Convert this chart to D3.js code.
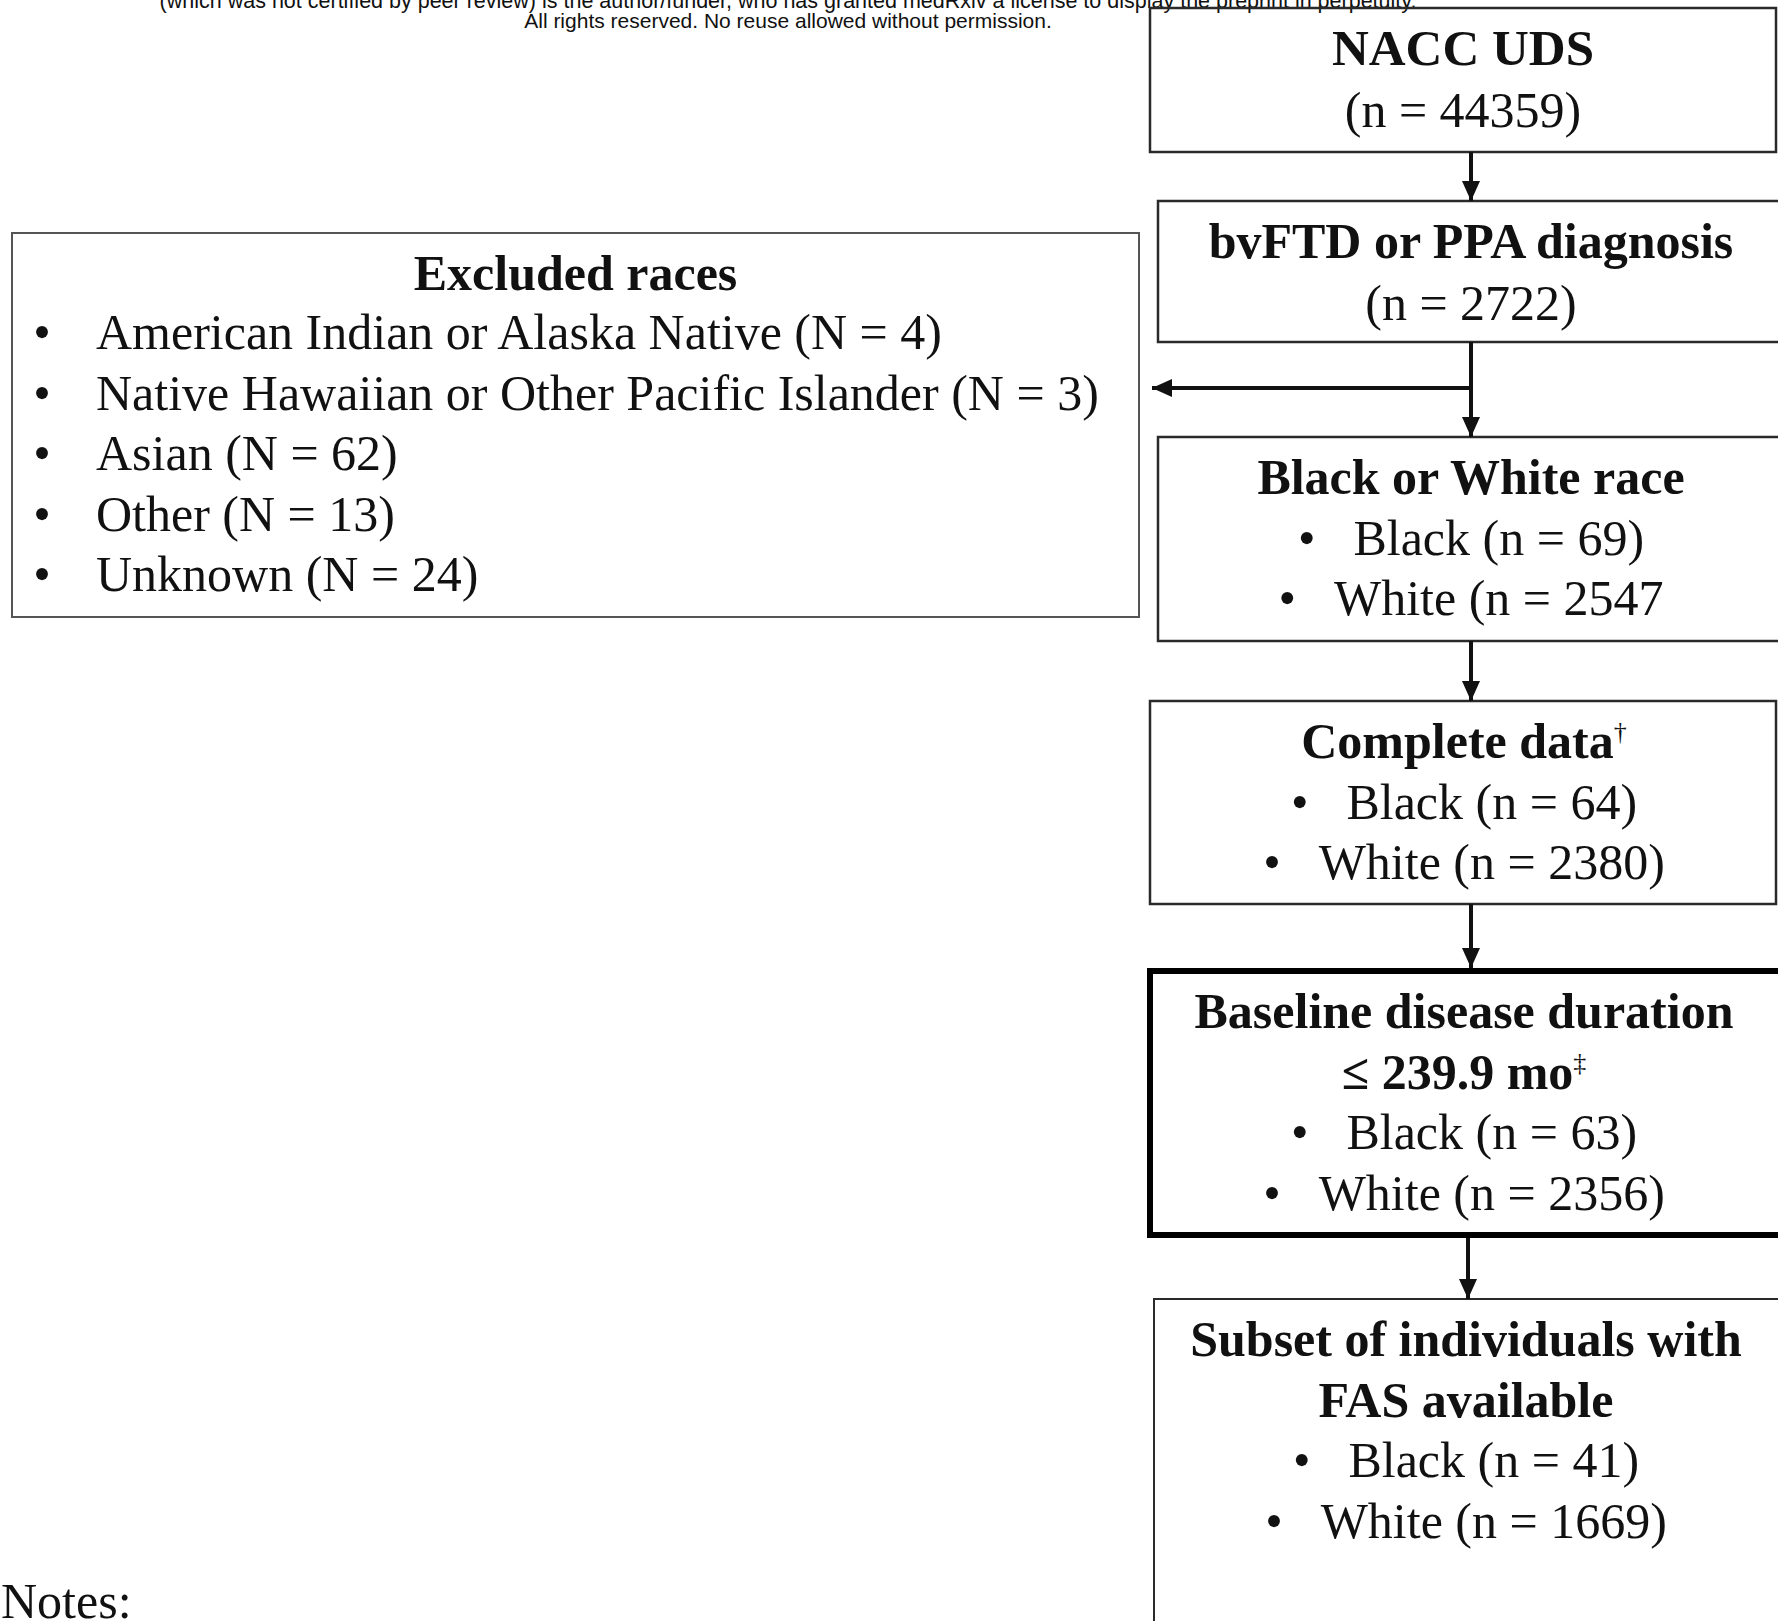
<!DOCTYPE html>
<html>
<head>
<meta charset="utf-8">
<script src="https://cdn.jsdelivr.net/npm/d3@7"></script>
<style>
  body { margin: 0; background: #fff; }
  svg { display: block; }
  .serif { font-family: "Liberation Serif", "Times New Roman", serif; fill: #111; }
  .sans { font-family: "Liberation Sans", Arial, sans-serif; fill: #111; }
</style>
</head>
<body>
<div id="chart"></div>
<script>
// ---- data ----
var headerLines = [
  "(which was not certified by peer review) is the author/funder, who has granted medRxiv a license to display the preprint in perpetuity.",
  "All rights reserved. No reuse allowed without permission."
];

var stageTitles = [
  ["NACC UDS"],
  ["bvFTD or PPA diagnosis"],
  ["Black or White race"],
  ["Complete data"],
  ["Baseline disease duration", "\u2264 239.9 mo"],
  ["Subset of individuals with", "FAS available"]
];
var stageMarks = ["", "", "", "\u2020", "\u2021", ""];   // footnote marks on last title line
var stageTotal = [44359, 2722, null, null, null, null];
var blackN = [null, null, 69, 64, 63, 41];
var whiteN = [null, null, 2547, 2380, 2356, 1669];
var missingParen = [2];  // "White (n = 2547" has no closing paren in the source

var excludedTitle = "Excluded races";
var excludedRaces = ["American Indian or Alaska Native", "Native Hawaiian or Other Pacific Islander", "Asian", "Other", "Unknown"];
var excludedN = [4, 3, 62, 13, 24];

var notesLabel = "Notes:";

// ---- layout ----
var width = 1778, height = 1621;

var boxes = [
  {x: 1150, y: 8,    w: 626, h: 144, cx: 1463, sw: 2.5, titleSize: 51},
  {x: 1158, y: 201,  w: 640, h: 141, cx: 1471, sw: 2.5},
  {x: 1158, y: 437,  w: 640, h: 204, cx: 1471, sw: 2.5},
  {x: 1150, y: 701,  w: 626, h: 203, cx: 1464, sw: 2.5},
  {x: 1150, y: 971,  w: 640, h: 264, cx: 1464, sw: 6},
  {x: 1154, y: 1299, w: 640, h: 420, cx: 1466, sw: 2}
];
var excludedBox = {x: 12, y: 233, w: 1127, h: 384};

var lineStep = 60.5, firstLine = 57, fontSize = 50;

var svg = d3.select("#chart").append("svg")
    .attr("width", width)
    .attr("height", height);

svg.append("defs").append("marker")
    .attr("id", "head")
    .attr("markerUnits", "userSpaceOnUse")
    .attr("viewBox", "0 -9 20 18")
    .attr("refX", 20).attr("refY", 0)
    .attr("markerWidth", 20).attr("markerHeight", 18)
    .attr("orient", "auto")
  .append("path")
    .attr("d", "M0,-9L20,0L0,9Z")
    .attr("fill", "#111");

// header (preprint notice)
svg.selectAll(".header")
    .data(headerLines)
  .enter().append("text")
    .attr("class", "header sans")
    .attr("x", 788)
    .attr("y", function(d, i) { return 8 + i * 20; })
    .attr("text-anchor", "middle")
    .style("font-size", function(d, i) { return i == 0 ? "21.5px" : "21px"; })
    .text(function(d) { return d; });

// stage boxes
var stage = svg.selectAll(".stage")
    .data(boxes)
  .enter().append("g")
    .attr("class", "stage");

stage.append("rect")
    .attr("x", function(d) { return d.x; })
    .attr("y", function(d) { return d.y; })
    .attr("width", function(d) { return d.w; })
    .attr("height", function(d) { return d.h; })
    .attr("fill", "none")
    .attr("stroke", function(d, i) { return i == 4 ? "#000" : "#2a2a2a"; })
    .attr("stroke-width", function(d) { return d.sw; });

stage.each(function(b, i) {
  var g = d3.select(this);
  var row = 0;
  stageTitles[i].forEach(function(t, k) {
    var txt = g.append("text")
        .attr("class", "serif")
        .attr("x", b.cx)
        .attr("y", b.y + firstLine + row * lineStep)
        .attr("text-anchor", "middle")
        .style("font-size", (b.titleSize || fontSize) + "px")
        .style("font-weight", "bold")
        .text(t);
    if (k == stageTitles[i].length - 1 && stageMarks[i]) {
      txt.append("tspan")
          .attr("dy", -18)
          .style("font-size", "26px")
          .style("font-weight", "normal")
          .text(stageMarks[i]);
    }
    row++;
  });
  if (stageTotal[i] != null) {
    g.append("text")
        .attr("class", "serif")
        .attr("x", b.cx)
        .attr("y", b.y + firstLine + row * lineStep + 1)
        .attr("text-anchor", "middle")
        .style("font-size", fontSize + "px")
        .text("(n = " + stageTotal[i] + ")");
    row++;
  }
  var bullets = [];
  if (blackN[i] != null) bullets.push("Black (n = " + blackN[i] + ")");
  if (whiteN[i] != null) bullets.push("White (n = " + whiteN[i] + (missingParen.indexOf(i) >= 0 ? "" : ")"));
  bullets.forEach(function(label) {
    var t = g.append("text")
        .attr("class", "serif")
        .attr("x", b.cx)
        .attr("y", b.y + firstLine + row * lineStep)
        .attr("text-anchor", "middle")
        .style("font-size", fontSize + "px");
    t.append("tspan").text("\u2022");
    t.append("tspan").attr("dx", 38).text(label);
    row++;
  });
});

// excluded races box
svg.append("rect")
    .attr("x", excludedBox.x)
    .attr("y", excludedBox.y)
    .attr("width", excludedBox.w)
    .attr("height", excludedBox.h)
    .attr("fill", "none")
    .attr("stroke", "#555")
    .attr("stroke-width", 2);

svg.append("text")
    .attr("class", "serif")
    .attr("x", excludedBox.x + excludedBox.w / 2)
    .attr("y", excludedBox.y + 57)
    .attr("text-anchor", "middle")
    .style("font-size", fontSize + "px")
    .style("font-weight", "bold")
    .text(excludedTitle);

var exRow = svg.selectAll(".exrow")
    .data(excludedRaces)
  .enter().append("g")
    .attr("class", "exrow")
    .attr("transform", function(d, i) { return "translate(0," + (excludedBox.y + 116 + i * 60.5) + ")"; });

exRow.append("text")
    .attr("class", "serif")
    .attr("x", 42)
    .attr("text-anchor", "middle")
    .style("font-size", fontSize + "px")
    .text("\u2022");

exRow.append("text")
    .attr("class", "serif")
    .attr("x", 96)
    .style("font-size", fontSize + "px")
    .text(function(d, i) { return d + " (N = " + excludedN[i] + ")"; });

// arrows between stages
var arrows = [
  {x1: 1471, y1: boxes[0].y + boxes[0].h, x2: 1471, y2: boxes[1].y},
  {x1: 1471, y1: boxes[1].y + boxes[1].h, x2: 1471, y2: boxes[2].y},
  {x1: 1471, y1: 388, x2: excludedBox.x + excludedBox.w + 13, y2: 388},
  {x1: 1471, y1: boxes[2].y + boxes[2].h, x2: 1471, y2: boxes[3].y},
  {x1: 1471, y1: boxes[3].y + boxes[3].h, x2: 1471, y2: boxes[4].y - 3},
  {x1: 1468, y1: boxes[4].y + boxes[4].h + 3, x2: 1468, y2: boxes[5].y}
];

svg.selectAll(".arrow")
    .data(arrows)
  .enter().append("line")
    .attr("class", "arrow")
    .attr("x1", function(d) { return d.x1; })
    .attr("y1", function(d) { return d.y1; })
    .attr("x2", function(d) { return d.x2; })
    .attr("y2", function(d) { return d.y2; })
    .attr("stroke", "#111")
    .attr("stroke-width", 4)
    .attr("marker-end", "url(#head)");

svg.append("text")
    .attr("class", "serif")
    .attr("x", 1)
    .attr("y", 1618)
    .style("font-size", fontSize + "px")
    .text(notesLabel);
</script>
</body>
</html>
